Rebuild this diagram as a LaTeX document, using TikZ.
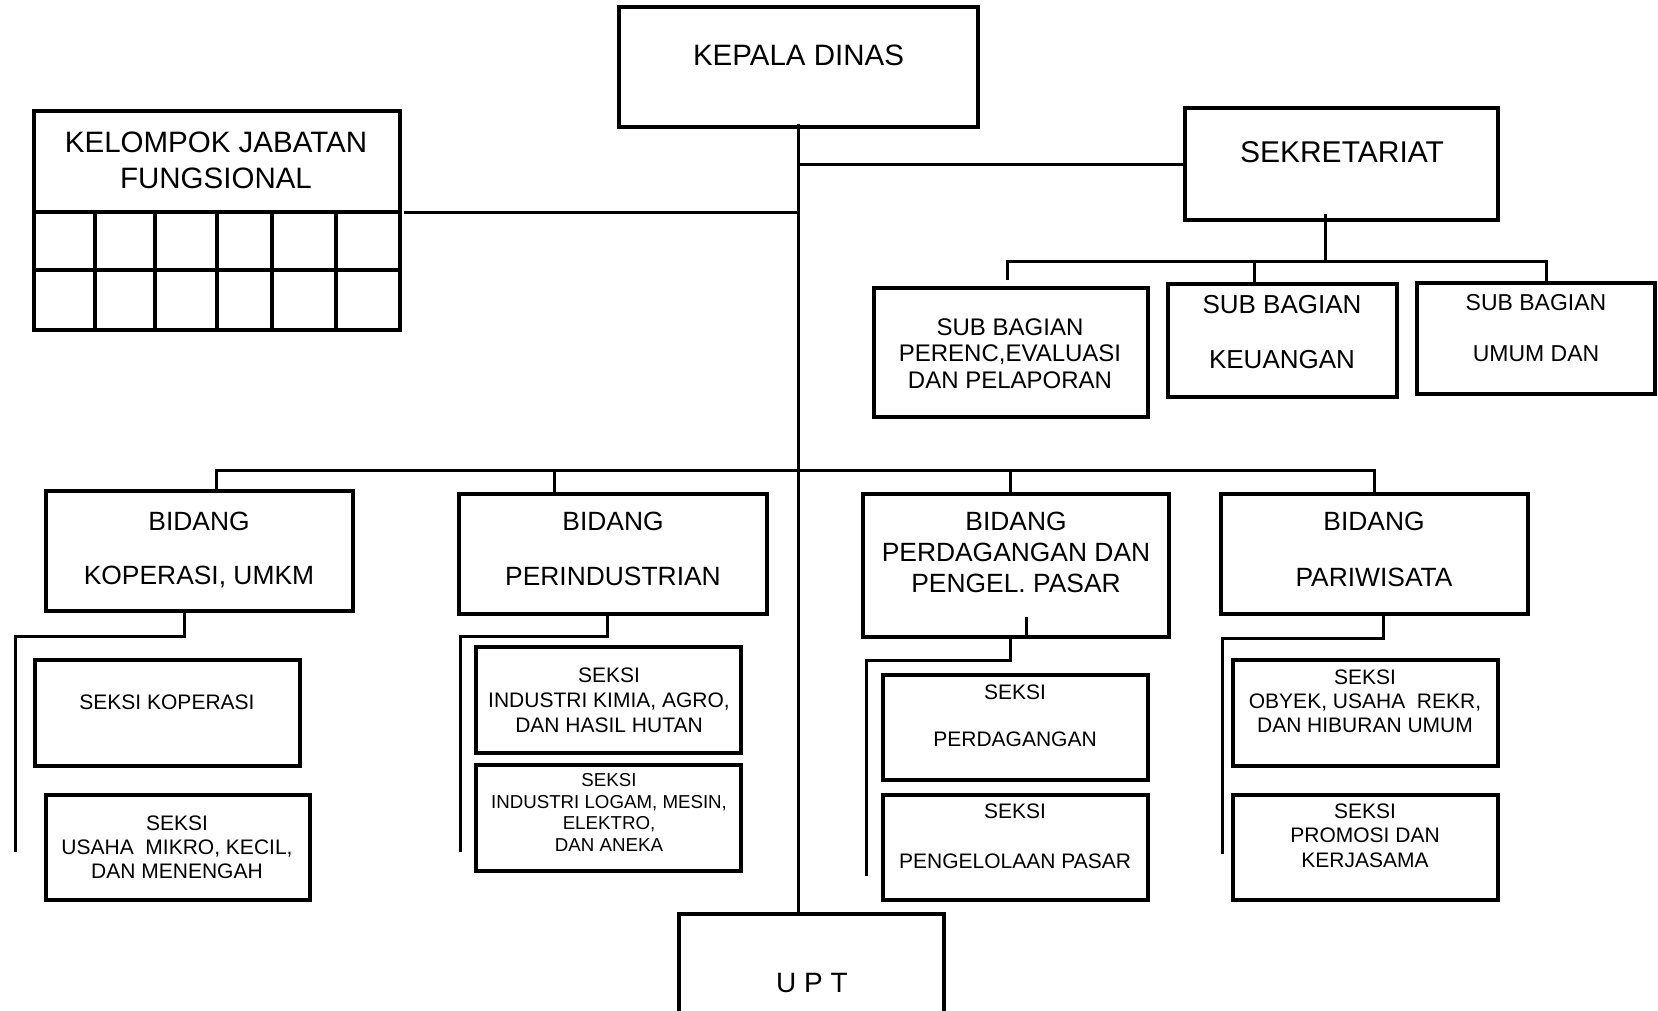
\documentclass[tikz,border=0pt]{standalone}
\usepackage{fontspec}
\setmainfont{Liberation Sans}
\usetikzlibrary{calc}
\newcommand\fs[2]{\fontsize{#1}{#2}\selectfont}

\begin{document}
\begin{tikzpicture}[x=1pt, y=-1pt,
    box/.style={draw, line width=3.5pt, inner sep=0pt},
    link/.style={line width=3pt},
    lbl/.style={align=center, inner sep=0pt}]
  \fill[white] (0,0) rectangle (1658,1010);
  \useasboundingbox (0,0) rectangle (1658,1010);

  \node[box, minimum width=359, minimum height=120] (kd) at (798.5,67) {};
  \node[box, minimum width=366, minimum height=219] (kjf) at (217,220.5) {};
  \node[box, minimum width=313, minimum height=112] (sek) at (1341.5,164) {};
  \node[box, minimum width=274, minimum height=129] (sb1) at (1011,352.5) {};
  \node[box, minimum width=229, minimum height=113] (sb2) at (1282.5,340.5) {};
  \node[box, minimum width=238, minimum height=111] (sb3) at (1536,338.5) {};
  \node[box, minimum width=307, minimum height=120] (b1) at (199.5,551) {};
  \node[box, minimum width=308, minimum height=120] (b2) at (613,554) {};
  \node[box, minimum width=306, minimum height=143] (b3) at (1016,565.5) {};
  \node[box, minimum width=307, minimum height=120] (b4) at (1374.5,554) {};
  \node[box, minimum width=265, minimum height=106] (s1a) at (167.5,713) {};
  \node[box, minimum width=264, minimum height=105] (s1b) at (178,847.5) {};
  \node[box, minimum width=265, minimum height=106] (s2a) at (608.5,700) {};
  \node[box, minimum width=265, minimum height=106] (s2b) at (608.5,818) {};
  \node[box, minimum width=265, minimum height=105] (s3a) at (1015.5,727.5) {};
  \node[box, minimum width=265, minimum height=105] (s3b) at (1015.5,847.5) {};
  \node[box, minimum width=265, minimum height=106] (s4a) at (1365.5,713) {};
  \node[box, minimum width=265, minimum height=105] (s4b) at (1365.5,847.5) {};
  \node[box, minimum width=265, minimum height=101] (upt) at (811.5,964.5) {};

  \foreach \gy in {212,270}
    \draw[line width=3.5pt] (34,\gy) -- (400,\gy);
  \foreach \gx in {95,155,217,272,336}
    \draw[line width=3.5pt] (\gx,212) -- (\gx,330);

  \node[lbl, font=\fs{29.5}{32}] (t-kd) at (798.5,55) {KEPALA DINAS};
  \node[lbl, font=\fs{29.5}{36}] (t-kjf) at (216,160) {KELOMPOK JABATAN\\FUNGSIONAL};
  \node[lbl, font=\fs{30}{34}] (t-sek) at (1342,152) {SEKRETARIAT};
  \node[lbl, font=\fs{24}{26.5}] (t-sb1) at (1010,353.5) {SUB BAGIAN\\PERENC,EVALUASI\\DAN PELAPORAN};
  \node[lbl, font=\fs{26}{27.5}] (t-sb2) at (1282,332.5) {SUB BAGIAN\\[27.5pt]KEUANGAN};
  \node[lbl, font=\fs{23}{25.5}] (t-sb3) at (1536,328.5) {SUB BAGIAN\\[25.5pt]UMUM DAN};
  \node[lbl, font=\fs{26.4}{27}] (t-b1) at (199,549.5) {BIDANG\\[27pt]KOPERASI, UMKM};
  \node[lbl, font=\fs{26.4}{27.5}] (t-b2) at (613,548.5) {BIDANG\\[27.5pt]PERINDUSTRIAN};
  \node[lbl, font=\fs{26.4}{31}] (t-b3) at (1016,552) {BIDANG\\PERDAGANGAN DAN\\PENGEL. PASAR};
  \node[lbl, font=\fs{26.4}{28}] (t-b4) at (1374,549) {BIDANG\\[28pt]PARIWISATA};
  \node[lbl, font=\fs{21}{24}] (t-s1a) at (167,702) {SEKSI KOPERASI};
  \node[lbl, font=\fs{21}{24}] (t-s1b) at (177,847) {SEKSI\\USAHA\ \ MIKRO, KECIL,\\DAN MENENGAH};
  \node[lbl, font=\fs{21}{25}] (t-s2a) at (609,700) {SEKSI\\INDUSTRI KIMIA, AGRO,\\DAN HASIL HUTAN};
  \node[lbl, font=\fs{18.7}{21.7}] (t-s2b) at (609,812.5) {SEKSI\\INDUSTRI LOGAM, MESIN,\\ELEKTRO,\\DAN ANEKA};
  \node[lbl, font=\fs{21}{23.5}] (t-s3a) at (1015,715.5) {SEKSI\\[23.5pt]PERDAGANGAN};
  \node[lbl, font=\fs{21}{25}] (t-s3b) at (1015,836) {SEKSI\\[25pt]PENGELOLAAN PASAR};
  \node[lbl, font=\fs{21}{24}] (t-s4a) at (1365,701) {SEKSI\\OBYEK, USAHA\ \ REKR,\\DAN HIBURAN UMUM};
  \node[lbl, font=\fs{21}{24.5}] (t-s4b) at (1365,835.5) {SEKSI\\PROMOSI DAN\\KERJASAMA};
  \node[lbl, font=\fs{28}{30}] (t-upt) at (812,983) {U P T};

  \coordinate (kjfrow) at (404,212);
  \coordinate (subbar) at (1325,261);
  \coordinate (bidbar) at (799,470);
  \coordinate (r1top) at (15,636);   \coordinate (r1bot) at (15,852);
  \coordinate (r2top) at (460,636);  \coordinate (r2bot) at (460,852);
  \coordinate (r3top) at (866,660);  \coordinate (r3bot) at (866,876);
  \coordinate (r4top) at (1222,638); \coordinate (r4bot) at (1222,854);

  \draw[link] ([yshift=5pt]kd.south) -- (kd.south |- upt.north);
  \draw[link] (kjfrow) -- (kjfrow -| kd.south);
  \draw[link] (sek.west -| kd.south) -- (sek.west);

  \draw[link] ([xshift=-16.5pt,yshift=8pt]sek.south) -- (subbar);
  \draw[link] ([xshift=-4pt,yshift=6pt]sb1.north) |- ([xshift=10.5pt]sb3.north |- subbar) -- ([xshift=10.5pt]sb3.north);
  \draw[link] ([xshift=-28.5pt]sb2.north) -- ([xshift=-28.5pt]sb2.north |- subbar);

  \draw[link] ([xshift=16.5pt]b1.north) |- (b4.north |- bidbar) -- (b4.north);
  \draw[link] ([xshift=-59pt]b2.north) -- ([xshift=-59pt]b2.north |- bidbar);
  \draw[link] ([xshift=-6pt]b3.north) -- ([xshift=-6pt]b3.north |- bidbar);

  \draw[link] ([xshift=-15.5pt]b1.south) |- (r1top) -- (r1bot);
  \draw[link] ([xshift=-6pt]b2.south) |- (r2top) -- (r2bot);
  \draw[link] ([xshift=10pt,yshift=22pt]b3.south) -- ([xshift=10pt]b3.south);
  \draw[link] ([xshift=-6pt]b3.south) |- (r3top) -- (r3bot);
  \draw[link] ([xshift=8.5pt]b4.south) |- (r4top) -- (r4bot);
\end{tikzpicture}
\end{document}
